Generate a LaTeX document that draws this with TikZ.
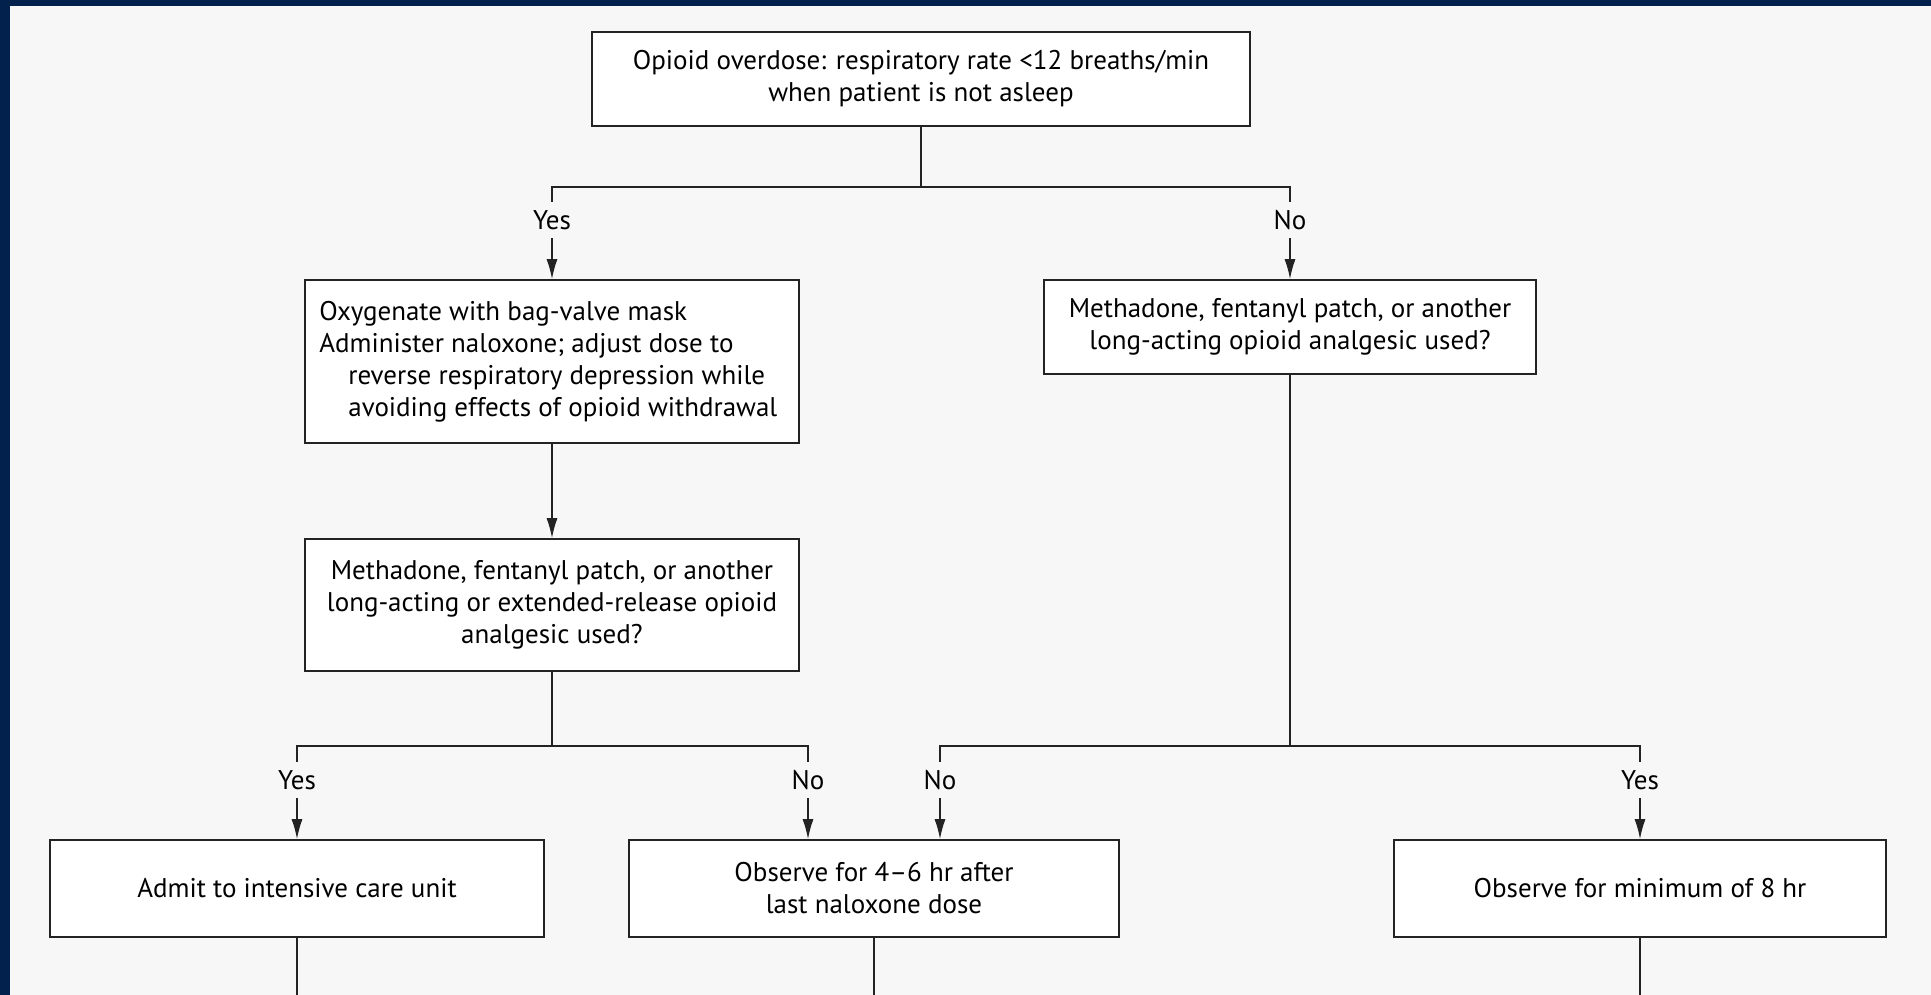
\documentclass[tikz,border=0pt]{standalone}
\usepackage{fontspec}
\setmainfont{PT Sans}
\usetikzlibrary{arrows.meta}
\definecolor{navy}{RGB}{3,33,77}
\definecolor{bgc}{RGB}{247,247,247}
\definecolor{lnc}{RGB}{35,35,35}
\newcommand\boxfont{\fontsize{27}{32}\selectfont}
\begin{document}
\begin{tikzpicture}[x=1pt,y=-1pt,
  box/.style={draw=lnc, line width=1.6pt, fill=white, inner sep=0pt, align=center, font=\boxfont},
  txt/.style={inner sep=0pt, align=left, font=\boxfont},
  lab/.style={inner sep=0pt, minimum height=36pt, font=\boxfont},
  conn/.style={draw=lnc, line width=1.6pt},
  arr/.style={conn, -{Latex[length=20pt,width=11pt]}}]
\useasboundingbox (0,0) rectangle (1931,995);
\fill[bgc] (0,0) rectangle (1931,995);
\fill[navy] (0,0) rectangle (1931,6);
\fill[navy] (0,0) rectangle (10,995);

% boxes
\node[box, minimum width=658pt, minimum height=94pt] (top) at (921,79)
  {Opioid overdose: respiratory rate <12 breaths/min\\when patient is not asleep};
\node[box, minimum width=494pt, minimum height=163pt] (oxy) at (552,361.5) {};
\node[txt, anchor=west] (oxyt) at ([xshift=15pt]oxy.west)
  {Oxygenate with bag-valve mask\\Administer naloxone; adjust dose to\\\hspace*{29pt}reverse respiratory depression while\\\hspace*{29pt}avoiding effects of opioid withdrawal};
\node[box, minimum width=492pt, minimum height=94pt] (methR) at (1290,327)
  {Methadone, fentanyl patch, or another\\long-acting opioid analgesic used?};
\node[box, minimum width=494pt, minimum height=132pt] (methL) at (552,605)
  {Methadone, fentanyl patch, or another\\long-acting or extended-release opioid\\analgesic used?};
\node[box, minimum width=494pt, minimum height=97pt] (icu) at (297,888.5)
  {Admit to intensive care unit};
\node[box, minimum width=490pt, minimum height=97pt] (obs4) at (874,888.5)
  {Observe for 4–6 hr after\\last naloxone dose};
\node[box, minimum width=492pt, minimum height=97pt] (obs8) at (1640,888.5)
  {Observe for minimum of 8 hr};

% labels
\node[lab] (yes1) at (552,220) {Yes};
\node[lab] (no1) at (1290,220) {No};
\node[lab] (yes2) at (297,780) {Yes};
\node[lab] (no2) at (808,780) {No};
\node[lab] (no3) at (940,780) {No};
\node[lab] (yes3) at (1640,780) {Yes};

% connectors
\draw[conn] (top.south) -- ++(0,60) -| (yes1.north);
\draw[conn] (top.south) -- ++(0,60) -| (no1.north);
\draw[arr] (yes1.south) -- (oxy.north);
\draw[arr] (no1.south) -- (methR.north);
\draw[arr] (oxy.south) -- (methL.north);
\draw[conn] (methL.south) -- ++(0,74) -| (yes2.north);
\draw[conn] (methL.south) -- ++(0,74) -| (no2.north);
\draw[conn] (methR.south) -- ++(0,371) -| (no3.north);
\draw[conn] (methR.south) -- ++(0,371) -| (yes3.north);
\draw[arr] (yes2.south) -- (icu.north);
\draw[arr] (no2.south) -- (obs4.north -| no2.south);
\draw[arr] (no3.south) -- (obs4.north -| no3.south);
\draw[arr] (yes3.south) -- (obs8.north);

\coordinate (e1) at (297,995);
\coordinate (e2) at (874,995);
\coordinate (e3) at (1640,995);
\draw[conn] (icu.south) -- (e1);
\draw[conn] (obs4.south) -- (e2);
\draw[conn] (obs8.south) -- (e3);
\end{tikzpicture}
\end{document}
